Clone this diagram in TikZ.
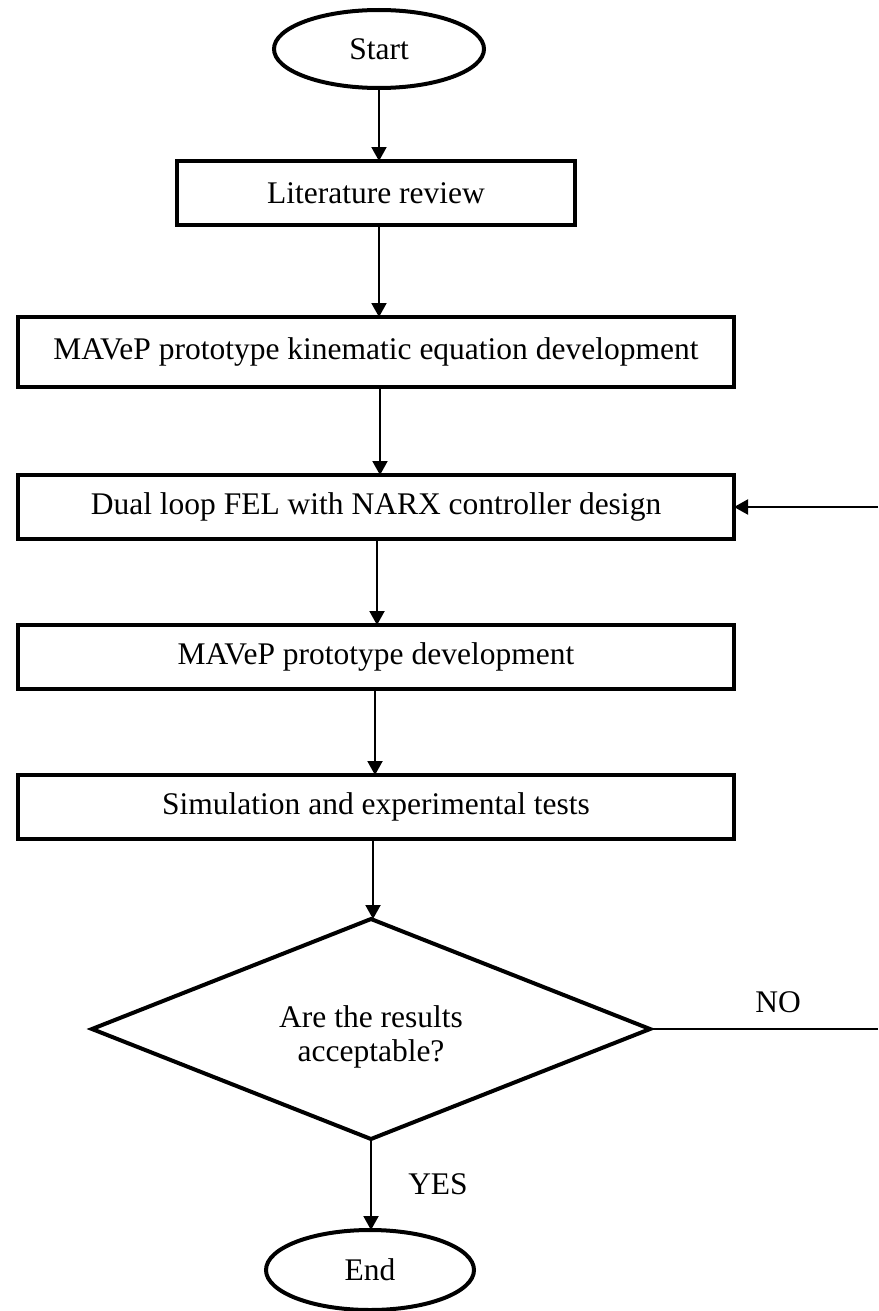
\documentclass[tikz,border=0pt]{standalone}
\usepackage{fontspec}
\setmainfont{Liberation Serif}
\usetikzlibrary{positioning}
\usetikzlibrary{shapes,shapes.geometric,arrows.meta,calc}
\newcommand{\boxwidth}{358pt}

\begin{document}
\begin{tikzpicture}[x=0.5pt, y=-0.5pt, outer sep=0pt, font=\fontsize{15.75}{17}\selectfont]
\tikzstyle{term}=[
                  draw=black,
                  line width=2pt,
                  ellipse,
                  inner sep=0pt,
                  minimum width=105pt,
                  minimum height=39pt]

\tikzstyle{proc}=[
                  draw=black,
                  line width=2pt,
                  rectangle,
                  inner sep=0pt,
                  minimum width=\boxwidth,
                  minimum height=32pt]

\tikzstyle{decide}=[
                  draw=black,
                  line width=2pt,
                  diamond,
                  inner sep=0pt,
                  minimum width=279pt,
                  minimum height=110pt]

\tikzstyle{flow}=[-{Triangle[length=7pt,width=7.5pt]}, line width=1pt]

\useasboundingbox (0,0) rectangle (878,1311);

\node[term] (start)  at (379,49)              {Start};
\node[proc] (lit)    at (376,193)  [minimum width=199pt] {Literature review};
\node[proc] (kin)    at (376,352)  [minimum height=35pt] {MAVeP prototype kinematic equation development};
\node[proc] (fel)    at (376,507)             {Dual loop FEL with NARX controller design};
\node[proc] (proto)  at (376,657)             {MAVeP prototype development};
\node[proc] (sim)    at (376,807)             {Simulation and experimental tests};
\node[decide] (check) at (371,1029)           {};
\node[align=center] (question) at (371,1037)  {Are the results\\acceptable?};
\node[term] (finish) at (370,1270) [minimum width=104pt, minimum height=40pt] {End};

\draw[flow] (start.south) -- (start.south |- lit.north);
\draw[flow] (start.south |- lit.south) -- (start.south |- kin.north);
\draw[flow] ($(kin.south)+(4,0)$) -- ($(fel.north)+(4,0)$);
\draw[flow] ($(fel.south)+(1,0)$) -- ($(proto.north)+(1,0)$);
\draw[flow] ($(proto.south)+(-1,0)$) -- ($(sim.north)+(-1,0)$);
\draw[flow] ($(sim.south)+(-3,0)$) -- ($(check.north)+(2,0)$);
\draw[flow] (check.south) -- (check.south |- finish.north);

% feedback when the results fail
\coordinate (noend)   at (878,1029);
\coordinate (backend) at (878,507);
\draw[line width=1pt] (check.east) -- (noend);
\draw[flow] (backend) -- (fel.east);

\node (nolabel)  at (778,1002) {NO};
\node (yeslabel) at (438,1184) {YES};

\end{tikzpicture}
\end{document}
